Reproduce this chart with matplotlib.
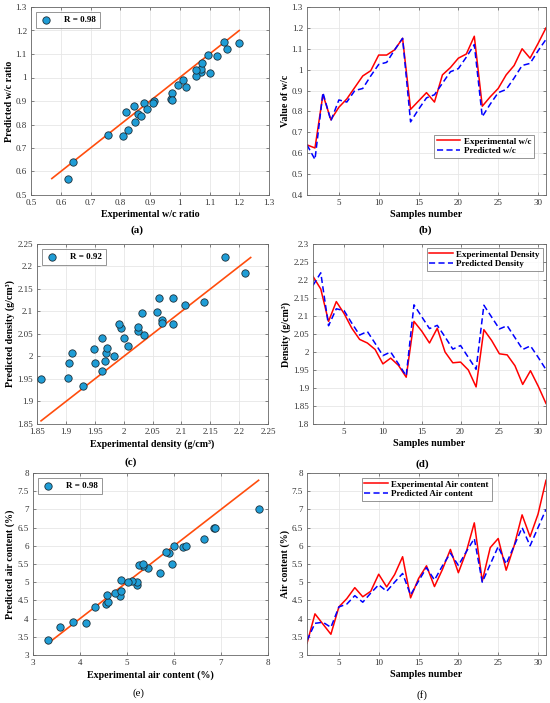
import matplotlib
matplotlib.use("Agg")
import matplotlib.pyplot as plt
from matplotlib.ticker import MultipleLocator, FuncFormatter

plt.rcParams['font.family'] = ['Liberation Serif', 'DejaVu Serif']

# Sample numbers
samples = list(range(1, 32))

# w/c ratio
wc_exp = [0.64, 0.625, 0.88, 0.76, 0.82, 0.86, 0.915, 0.97, 0.995, 1.07, 1.07, 1.095, 1.15,
          0.81, 0.85, 0.89, 0.845, 0.975, 1.01, 1.055, 1.075, 1.16, 0.825, 0.87, 0.91,
          0.975, 1.02, 1.10, 1.055, 1.125, 1.20]
wc_pred = [0.64, 0.57, 0.89, 0.755, 0.855, 0.845, 0.90, 0.91, 0.97, 1.025, 1.035, 1.095, 1.15,
           0.75, 0.81, 0.865, 0.88, 0.935, 0.99, 1.005, 1.06, 1.12, 0.775, 0.835, 0.89,
           0.905, 0.96, 1.02, 1.03, 1.09, 1.145]

# density
den_exp = [2.21, 2.175, 2.085, 2.14, 2.107, 2.066, 2.035, 2.025, 2.007, 1.967, 1.983, 1.963,
           1.93, 2.085, 2.058, 2.025, 2.066, 2.0, 1.97, 1.972, 1.95, 1.903, 2.062, 2.032,
           1.995, 1.992, 1.962, 1.91, 1.948, 1.905, 1.857]
den_pred = [2.185, 2.22, 2.073, 2.12, 2.115, 2.08, 2.047, 2.057, 2.024, 1.99, 2.0, 1.967,
            1.934, 2.131, 2.098, 2.065, 2.074, 2.042, 2.008, 2.018, 1.985, 1.952, 2.13, 2.097,
            2.064, 2.073, 2.04, 2.007, 2.017, 1.985, 1.951]

# air content
air_exp = [3.32, 4.13, 3.85, 3.57, 4.32, 4.55, 4.85, 4.6, 4.75, 5.22, 4.87, 5.21, 5.7,
           4.57, 5.1, 5.45, 4.88, 5.35, 5.9, 5.26, 5.84, 6.63, 5.03, 5.95, 6.2, 5.33,
           6.0, 6.85, 6.25, 6.87, 7.8]
air_pred = [3.4, 3.87, 3.9, 3.76, 4.32, 4.4, 4.63, 4.45, 4.7, 4.93, 4.75, 5.0, 5.24,
            4.65, 5.03, 5.4, 5.06, 5.45, 5.8, 5.46, 5.84, 6.2, 5.0, 5.49, 5.98, 5.5,
            6.0, 6.5, 6.0, 6.5, 7.0]

r_values = ['0.98', '0.92', '0.98']

W, H = 550, 703
fig = plt.figure(figsize=(W / 100, H / 100), dpi=100)

TICK = 6.5
LAB = 7.2


def px_axes(l, t, r, b):
    return fig.add_axes([l / W, 1 - b / H, (r - l) / W, (b - t) / H])


def tag(x, y, s, w):
    fig.text(x / W, 1 - y / H, s, ha='center', va='center', fontsize=7.8, fontweight=w)


def g_fmt(v, pos):
    return ('%.2f' % v).rstrip('0').rstrip('.')


def style(ax):
    ax.grid(True, color='#e6e6e6', linewidth=0.6)
    ax.set_axisbelow(True)
    ax.tick_params(direction='in', top=True, right=True, labelsize=TICK, length=2.5,
                   color='#555555', width=0.5, labelcolor='#333333', pad=3)
    for s in ax.spines.values():
        s.set_color('#666666')
        s.set_linewidth(0.6)
    ax.xaxis.set_major_formatter(FuncFormatter(g_fmt))
    ax.yaxis.set_major_formatter(FuncFormatter(g_fmt))


def scatter_panel(ax, x, y, r, lims, xstep, ystep, xlabel, ylabel):
    lo = min(min(x), min(y))
    hi = max(max(x), max(y))
    ax.plot([lo, hi], [lo, hi], color='#ff4d0d', linewidth=1.2, zorder=2)
    ax.scatter(x, y, s=28, facecolor='#1f9dd6', edgecolor='#1b2f3a', linewidth=0.6,
               zorder=3, label='R = ' + r)
    ax.set_xlim(lims)
    ax.set_ylim(lims)
    ax.xaxis.set_major_locator(MultipleLocator(xstep))
    ax.yaxis.set_major_locator(MultipleLocator(ystep))
    style(ax)
    ax.set_xlabel(xlabel, fontsize=LAB, fontweight='bold', labelpad=2)
    ax.set_ylabel(ylabel, fontsize=LAB, fontweight='bold', labelpad=1.5)
    leg = ax.legend(loc='upper left', prop={'weight': 'bold', 'size': 6.5},
                    fancybox=False, edgecolor='#666666', handletextpad=1.2,
                    borderpad=0.45, borderaxespad=0.5, handlelength=1.5)
    leg.get_frame().set_linewidth(0.6)


def line_panel(ax, y1, y2, l1, l2, ylim, ystep, ylabel, loc, anchor):
    ax.plot(samples, y1, color='#ff0000', linewidth=1.1, label=l1)
    ax.plot(samples, y2, color='#0000ff', linewidth=1.1, linestyle=(0, (4, 2.2)), label=l2)
    ax.set_xlim(1, 31)
    ax.set_ylim(ylim)
    ax.set_xticks([5, 10, 15, 20, 25, 30])
    ax.yaxis.set_major_locator(MultipleLocator(ystep))
    style(ax)
    ax.set_xlabel('Samples number', fontsize=LAB, fontweight='bold', labelpad=2)
    ax.set_ylabel(ylabel, fontsize=LAB, fontweight='bold', labelpad=1.5)
    leg = ax.legend(loc=loc, bbox_to_anchor=anchor, prop={'weight': 'bold', 'size': 6.5},
                    fancybox=False, edgecolor='#666666', handlelength=2.6, borderpad=0.3,
                    labelspacing=0.15, borderaxespad=0.0, handletextpad=0.4)
    leg.get_frame().set_linewidth(0.6)


ax_a = px_axes(31, 7, 269, 195)
scatter_panel(ax_a, wc_exp, wc_pred, r_values[0], (0.5, 1.3), 0.1, 0.1,
              'Experimental w/c ratio', 'Predicted w/c ratio')

ax_b = px_axes(307, 7, 546, 195)
line_panel(ax_b, wc_exp, wc_pred, 'Experimental w/c', 'Predicted w/c',
           (0.4, 1.3), 0.1, 'Value of w/c', 'lower right', (0.95, 0.197))

ax_c = px_axes(37, 244, 268, 424)
scatter_panel(ax_c, den_exp, den_pred, r_values[1], (1.85, 2.25), 0.05, 0.05,
              'Experimental density (g/cm³)', 'Predicted density (g/cm³)')

ax_d = px_axes(313, 244, 546, 424)
line_panel(ax_d, den_exp, den_pred, 'Experimental Density', 'Predicted Density',
           (1.8, 2.3), 0.05, 'Density (g/cm³)', 'upper right', (0.985, 0.98))

ax_e = px_axes(33, 473, 268, 655)
scatter_panel(ax_e, air_exp, air_pred, r_values[2], (3, 8), 1, 0.5,
              'Experimental air content (%)', 'Predicted air content (%)')

ax_f = px_axes(307, 473, 546, 655)
line_panel(ax_f, air_exp, air_pred, 'Experimental Air content', 'Predicted Air content',
           (3, 8), 0.5, 'Air content (%)', 'upper center', (0.5, 0.975))

tag(137, 230, '(a)', 'bold')
tag(425, 230, '(b)', 'bold')
tag(131, 462, '(c)', 'bold')
tag(422, 464, '(d)', 'bold')
tag(138, 693, '(e)', 'normal')
tag(422, 695, '(f)', 'normal')

fig.savefig('out.png', dpi=100)
